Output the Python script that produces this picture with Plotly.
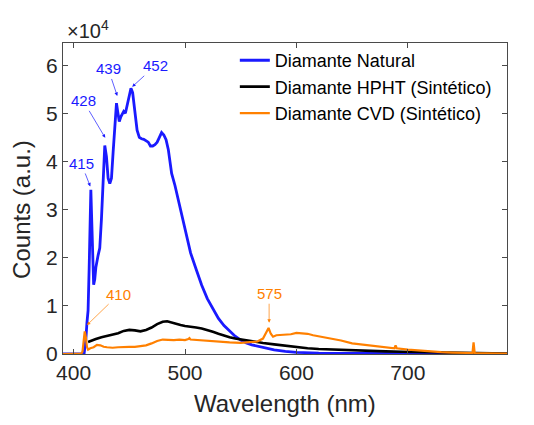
import plotly.graph_objects as go

# spectra (wavelength in nm, counts)
nat_wl = [390.5, 405, 408, 409.5, 411, 412, 413, 414, 415, 415.5, 416, 417, 418, 419, 420, 422,
          423.5, 425, 426.5, 428, 429.5, 431, 432.5, 434, 435.5, 437, 438.5, 439.5, 441, 442.5,
          444, 445, 446.5, 448, 450, 451.5, 453, 455, 457, 459, 461, 463, 465, 467, 469, 471,
          473, 475, 477, 479, 481, 483, 485, 488, 491, 494, 497, 500, 505, 510, 515, 520, 525,
          530, 535, 540, 545, 550, 555, 560, 565, 570, 575, 580, 590, 600, 620, 650, 700, 789]
nat_counts = [0, 0, 0, 200, 3000, 6500, 9000, 18000, 30000, 34100, 30000, 20000, 14400, 15500,
              18000, 20500, 22000, 28000, 37000, 43300, 41000, 36500, 35400, 36500, 42000, 48000,
              52100, 50500, 48300, 49300, 49800, 50400, 50000, 51500, 54000, 55200, 54300, 50500,
              46500, 45000, 44700, 44600, 44200, 44000, 43200, 43200, 43500, 44000, 45000, 46000,
              45500, 44500, 42500, 37500, 35000, 32000, 28500, 25500, 21000, 17600, 14300, 11500,
              9300, 7400, 5900, 4700, 3700, 2900, 2300, 1900, 1600, 1300, 1100, 850, 550, 350,
              200, 100, 50, 20]

hpht_wl = [413, 416, 420, 425, 430, 435, 440, 445, 450, 455, 460, 465, 470, 475, 480, 484, 488,
           492, 496, 500, 505, 510, 515, 520, 525, 530, 535, 540, 545, 550, 555, 560, 570, 580,
           590, 600, 610, 620, 635, 650, 665, 680, 695, 710, 725, 740, 760, 775, 789]
hpht_counts = [2500, 2800, 3100, 3500, 3800, 4000, 4300, 4800, 5000, 4900, 4700, 5000, 5500,
               6200, 6700, 6800, 6500, 6200, 6000, 5800, 5700, 5500, 5300, 5000, 4600, 4200,
               3800, 3500, 3200, 3000, 2800, 2600, 2300, 2000, 1700, 1400, 1200, 1050, 900, 750,
               650, 550, 480, 400, 300, 250, 180, 120, 100]

cvd_wl = [390.5, 405, 407, 408, 409, 410, 411, 412, 413, 415, 418, 421, 424, 427, 430, 435, 440,
          445, 450, 455, 460, 465, 470, 475, 480, 485, 490, 495, 500, 503, 504, 505, 510, 515,
          520, 530, 540, 550, 560, 565, 570, 573, 575, 577, 579, 582, 586, 590, 595, 600, 605,
          610, 615, 620, 630, 640, 650, 660, 670, 680, 688, 689, 690, 700, 710, 720, 730, 740,
          750, 758, 759, 760, 770, 780, 789]
cvd_counts = [0, 0, 100, 500, 3000, 4700, 3500, 1500, 900, 1200, 1400, 1900, 1800, 1500, 1400,
              1300, 1400, 1500, 1500, 1500, 1600, 1800, 2200, 2700, 3000, 2900, 2900, 3000, 2900,
              3100, 3300, 3000, 2900, 2800, 2800, 2600, 2400, 2300, 2400, 2600, 3200, 4600, 5400,
              4200, 3600, 3900, 4000, 4100, 4100, 4400, 4300, 4200, 3900, 3700, 3300, 2800, 2200,
              1900, 1600, 1400, 1200, 1800, 1200, 900, 700, 500, 400, 300, 250, 200, 2400, 200,
              150, 100, 80]

# peak labels: text, wavelength, counts at the arrow tip, text offset (px)
nat_peaks = ['415', '428', '439', '452']
nat_peak_wl = [415.0, 428.4, 439.2, 452.6]
nat_peak_counts = [34800, 44900, 53600, 55500]
nat_peak_off = [(-9, -23), (-22, -37), (-9, -27), (23, -21)]

cvd_peaks = ['410', '575']
cvd_peak_wl = [412.0, 575.5]
cvd_peak_counts = [6000, 6500]
cvd_peak_off = [(32, -31), (0, -29)]

y_ticks = [0, 1, 2, 3, 4, 5, 6]
x_ticks = [400, 500, 600, 700]

blue = '#1a1aff'
orange = '#ff8000'
axis_col = '#4a4a4a'
font = 'Arial, Liberation Sans, sans-serif'

fig = go.Figure()
fig.add_trace(go.Scatter(x=nat_wl, y=nat_counts, mode='lines', name='Diamante Natural',
                         line=dict(color=blue, width=2.8)))
fig.add_trace(go.Scatter(x=hpht_wl, y=hpht_counts, mode='lines', name='Diamante HPHT (Sintético)',
                         line=dict(color='black', width=2.6)))
fig.add_trace(go.Scatter(x=cvd_wl, y=cvd_counts, mode='lines', name='Diamante CVD (Sintético)',
                         line=dict(color=orange, width=2.2)))

annotations = []
for txt, px, py, off in zip(nat_peaks, nat_peak_wl, nat_peak_counts, nat_peak_off):
    annotations.append(dict(x=px, y=py, xref='x', yref='y', text=txt, showarrow=True,
                            ax=off[0], ay=off[1], arrowhead=2, arrowsize=1, arrowwidth=0.7,
                            arrowcolor=blue, font=dict(color=blue, size=15, family=font)))
for txt, px, py, off in zip(cvd_peaks, cvd_peak_wl, cvd_peak_counts, cvd_peak_off):
    annotations.append(dict(x=px, y=py, xref='x', yref='y', text=txt, showarrow=True,
                            ax=off[0], ay=off[1], arrowhead=2, arrowsize=1, arrowwidth=0.7,
                            arrowcolor=orange, font=dict(color=orange, size=15, family=font)))

# axis titles and the exponent label
annotations.append(dict(x=0.5, y=-0.158, xref='paper', yref='paper', text='Wavelength (nm)',
                        showarrow=False, xanchor='center', yanchor='middle',
                        font=dict(size=24, color='#262626', family=font)))
annotations.append(dict(x=-0.095, y=0.466, xref='paper', yref='paper', text='Counts (a.u.)',
                        textangle=-90, showarrow=False, xanchor='center', yanchor='middle',
                        font=dict(size=24, color='#262626', family=font)))
annotations.append(dict(x=0.004, y=1.045, xref='paper', yref='paper', text='×10<sup>4</sup>',
                        showarrow=False, xanchor='left', yanchor='middle',
                        font=dict(size=20, color='#262626', family=font)))

# page body has an 8px margin, so the figure is a little smaller than the window
fig.update_layout(
    width=518, height=409,
    margin=dict(l=55, r=19, t=35, b=63),
    plot_bgcolor='white', paper_bgcolor='white',
    showlegend=True,
    legend=dict(x=0.387, y=1.003, xanchor='left', yanchor='top', bgcolor='rgba(0,0,0,0)',
                font=dict(size=18, color='black', family=font), tracegroupgap=0),
    annotations=annotations,
)
fig.update_xaxes(range=[390.5, 789], tickvals=x_ticks, ticks='inside', ticklen=5,
                 showline=True, linecolor=axis_col, linewidth=1.2, mirror='ticks',
                 tickcolor=axis_col, showgrid=False, zeroline=False,
                 tickfont=dict(size=21, color='#262626', family=font))
fig.update_yaxes(range=[0, 64600], tickvals=[t * 1e4 for t in y_ticks],
                 ticktext=[str(t) for t in y_ticks], ticks='inside', ticklen=5,
                 showline=True, linecolor=axis_col, linewidth=1.2, mirror='ticks',
                 tickcolor=axis_col, showgrid=False, zeroline=False,
                 tickfont=dict(size=21, color='#262626', family=font))

fig.write_html('out.html')
